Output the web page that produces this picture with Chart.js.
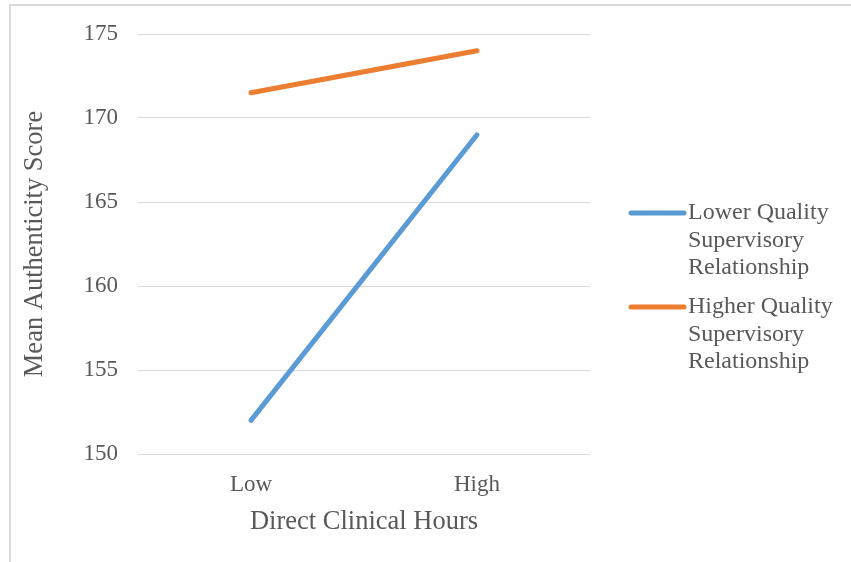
<!DOCTYPE html>
<html>
<head>
<meta charset="utf-8">
<script src="https://cdn.jsdelivr.net/npm/chart.js@4/dist/chart.umd.min.js"></script>
<style>
  html,body{margin:0;padding:0;background:#fff;overflow:hidden;}
  #wrap{position:relative;width:851px;height:562px;}
  #frame{position:absolute;left:9px;top:4px;width:850px;height:600px;border:2px solid #d9d9d9;box-sizing:border-box;}
  canvas{position:absolute;left:0;top:0;}
</style>
</head>
<body>
<div id="wrap">
  <div id="frame"></div>
  <canvas id="c" width="851" height="562"></canvas>
</div>
<script>
const categories = ['Low','High'];
const lowerQuality = [152, 169];
const higherQuality = [171.5, 174];
const seriesNames = [
  ['Lower Quality','Supervisory','Relationship'],
  ['Higher Quality','Supervisory','Relationship']
];
const yTicks = [150,155,160,165,170,175];

const FONT = '"Liberation Serif","Times New Roman",serif';
const TXT = '#595959';

// legend with wrapped labels, drawn next to the plot
const sideLegend = {
  id:'sideLegend',
  afterDraw(chart){
    const ctx = chart.ctx;
    ctx.save();
    ctx.font = '24px ' + FONT;
    ctx.textBaseline = 'middle';
    let y = 213;
    chart.data.datasets.forEach((ds,i)=>{
      ctx.strokeStyle = ds.borderColor;
      ctx.lineWidth = 5;
      ctx.lineCap = 'round';
      ctx.beginPath(); ctx.moveTo(631,y); ctx.lineTo(684,y); ctx.stroke();
      ctx.fillStyle = TXT;
      seriesNames[i].forEach((t,k)=>ctx.fillText(t, 688, y + k*27.5));
      y += 94;
    });
    ctx.restore();
  }
};

new Chart(document.getElementById('c'),{
  type:'line',
  data:{
    labels:categories,
    datasets:[
      {label:seriesNames[0].join(' '), data:lowerQuality, borderColor:'#5b9bd5', backgroundColor:'#5b9bd5', borderWidth:5, pointRadius:0, borderCapStyle:'round'},
      {label:seriesNames[1].join(' '), data:higherQuality, borderColor:'#ed7d31', backgroundColor:'#ed7d31', borderWidth:5, pointRadius:0, borderCapStyle:'round'}
    ]
  },
  options:{
    responsive:false,
    animation:false,
    layout:{padding:{left:12,right:261,top:34,bottom:10}},
    plugins:{legend:{display:false},tooltip:{enabled:false}},
    scales:{
      x:{
        offset:true,
        grid:{display:false,drawTicks:false},
        border:{display:false},
        ticks:{color:TXT,font:{family:FONT,size:23},padding:17},
        title:{display:true,text:'Direct Clinical Hours',color:TXT,font:{family:FONT,size:26.5},padding:{top:4,bottom:14}},
        afterFit(s){ s.height = 562 - 454 - 10; }
      },
      y:{
        min:150,max:175,
        afterBuildTicks(s){ s.ticks = yTicks.map(v=>({value:v})); },
        grid:{color:'#d9d9d9',lineWidth:1,drawTicks:false},
        border:{display:false},
        ticks:{color:TXT,font:{family:FONT,size:23},padding:20},
        title:{display:true,text:'Mean Authenticity Score',color:TXT,font:{family:FONT,size:26.5},padding:{top:7,bottom:4}},
        afterFit(s){ s.width = 138 - 12; }
      }
    }
  },
  plugins:[sideLegend]
});
</script>
</body>
</html>
